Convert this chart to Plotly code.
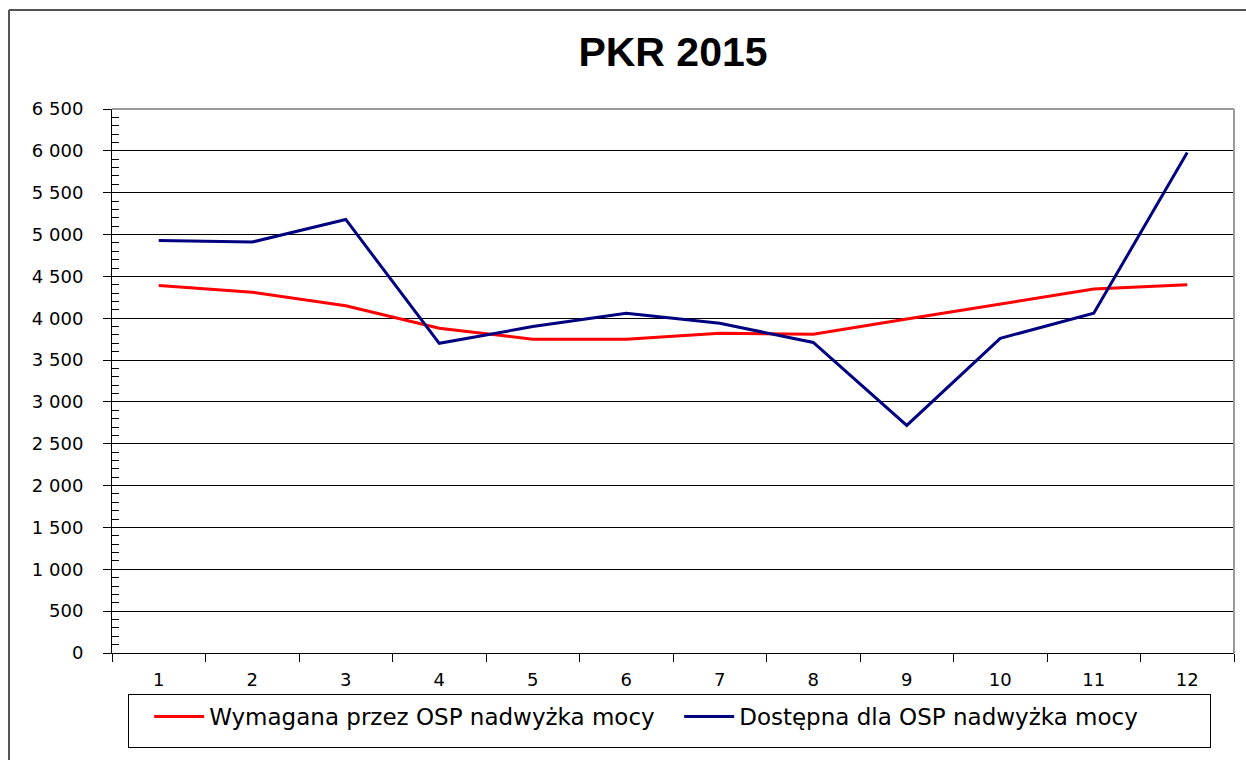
import plotly.graph_objects as go

months = ["1", "2", "3", "4", "5", "6", "7", "8", "9", "10", "11", "12"]
required = [4390, 4310, 4150, 3880, 3750, 3750, 3820, 3810, 3990, 4170, 4350, 4400]
available = [4930, 4910, 5180, 3700, 3900, 4060, 3940, 3710, 2720, 3760, 4060, 5980]
name_required = "Wymagana przez OSP nadwyżka mocy"
name_available = "Dostępna dla OSP nadwyżka mocy"
title_text = "PKR 2015"

W, H = 1246, 760
ML, MR, MT, MB = 112, 12, 109, 107
PW, PH = W - ML - MR, H - MT - MB


def px_x(p):
    return (p - ML) / PW


def px_y(p):
    return (H - MB - p) / PH


tick_font = dict(family="DejaVu Sans, Arial, sans-serif", size=18, color="#000000")

fig = go.Figure()
fig.add_trace(go.Scatter(x=months, y=required, mode="lines", name=name_required,
                         line=dict(color="#FF0000", width=3)))
fig.add_trace(go.Scatter(x=months, y=available, mode="lines", name=name_available,
                         line=dict(color="#000080", width=3)))

fig.update_layout(
    width=W, height=H,
    margin=dict(l=ML, r=MR, t=MT, b=MB, pad=0, autoexpand=False),
    paper_bgcolor="#FFFFFF", plot_bgcolor="#FFFFFF",
    separators=", ",
    title=dict(text=title_text, x=0.5, xref="paper", xanchor="center",
               y=1 - 52 / H, yref="container", yanchor="middle",
               font=dict(family="Liberation Sans, Arial, sans-serif", size=41,
                         color="#000000", weight="bold")),
    showlegend=True,
    legend=dict(orientation="h", x=px_x(128), y=px_y(694), xanchor="left", yanchor="top",
                bordercolor="#000000", borderwidth=1, bgcolor="#FFFFFF",
                font=dict(family="DejaVu Sans, Arial, sans-serif", size=23, color="#000000"),
                entrywidth=465, entrywidthmode="pixels", itemwidth=50,
                tracegroupgap=0,
                title=dict(text="\u00a0", side="left",
                           font=dict(family="DejaVu Sans, Arial, sans-serif", size=32))),
    xaxis=dict(type="category", range=[-0.5, 11.5], tickson="boundaries", ticks="outside",
               ticklen=8, tickcolor="#000000", tickwidth=1, showgrid=False, showline=True,
               linecolor="#000000", linewidth=1, tickfont=tick_font, ticklabelstandoff=10,
               zeroline=False, fixedrange=True),
    yaxis=dict(range=[0, 6500], dtick=500, tick0=0, tickformat=",d", ticks="outside",
               ticklen=8, tickcolor="#000000", tickwidth=1, showgrid=True,
               gridcolor="#000000", gridwidth=1, showline=True, linecolor="#000000",
               linewidth=1, zeroline=False, tickfont=tick_font, ticklabelstandoff=16,
               minor=dict(dtick=100, ticks="inside", ticklen=7, tickcolor="#000000",
                          tickwidth=1, showgrid=False),
               fixedrange=True),
    shapes=[
        dict(type="line", xref="paper", yref="paper", x0=0, x1=1, y0=1, y1=1,
             line=dict(color="#9A9A9A", width=2), layer="above"),
        dict(type="line", xref="paper", yref="paper", x0=1, x1=1, y0=0, y1=1,
             line=dict(color="#9A9A9A", width=2), layer="above"),
        dict(type="line", xref="paper", yref="paper", x0=px_x(9), x1=px_x(W + 5),
             y0=px_y(10), y1=px_y(10), line=dict(color="#555555", width=2)),
        dict(type="line", xref="paper", yref="paper", x0=px_x(9), x1=px_x(9),
             y0=px_y(10), y1=px_y(H + 5), line=dict(color="#555555", width=2)),
    ],
)

fig.write_html("out.html", config={"displayModeBar": False},
               post_script="document.body.style.margin='0';")
